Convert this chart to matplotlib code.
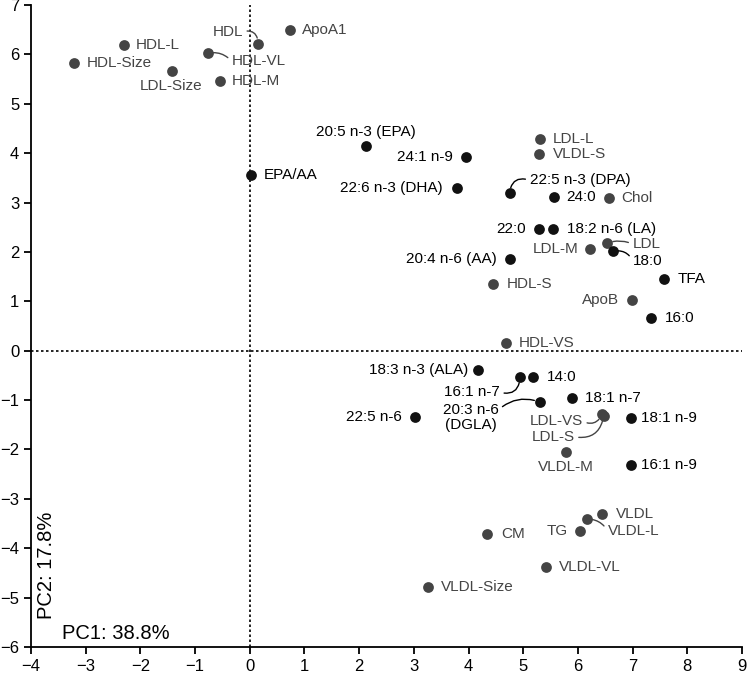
import matplotlib
matplotlib.use("Agg")
import matplotlib.pyplot as plt

plt.rcParams["font.family"] = ["Liberation Sans", "DejaVu Sans"]

# PCA loadings: fatty acids (black) and lipoprotein measures (gray)
fa_names = ["20:5 n-3 (EPA)", "24:1 n-9", "EPA/AA", "22:6 n-3 (DHA)", "22:5 n-3 (DPA)",
            "24:0", "22:0", "18:2 n-6 (LA)", "18:0", "20:4 n-6 (AA)", "TFA", "16:0",
            "18:3 n-3 (ALA)", "16:1 n-7", "14:0", "18:1 n-7", "20:3 n-6\n(DGLA)",
            "22:5 n-6", "18:1 n-9", "16:1 n-9"]
fa_pc1 = [2.12, 3.95, 0.02, 3.78, 4.75, 5.56, 5.28, 5.54, 6.64, 4.75, 7.57, 7.33,
          4.17, 4.94, 5.17, 5.90, 5.30, 3.02, 6.97, 6.97]
fa_pc2 = [4.14, 3.92, 3.55, 3.29, 3.19, 3.11, 2.46, 2.46, 2.01, 1.85, 1.45, 0.66,
          -0.39, -0.54, -0.54, -0.96, -1.04, -1.35, -1.37, -2.32]

lp_names = ["ApoA1", "HDL", "HDL-L", "HDL-VL", "HDL-Size", "LDL-Size", "HDL-M",
            "LDL-L", "VLDL-S", "Chol", "LDL-M", "LDL", "HDL-S", "ApoB", "HDL-VS",
            "LDL-VS", "LDL-S", "VLDL-M", "VLDL", "VLDL-L", "TG", "CM", "VLDL-VL",
            "VLDL-Size"]
lp_pc1 = [0.73, 0.15, -2.30, -0.77, -3.22, -1.43, -0.55, 5.30, 5.28, 6.56, 6.22,
          6.54, 4.44, 6.98, 4.68, 6.44, 6.47, 5.78, 6.44, 6.16, 6.03, 4.34, 5.42, 3.26]
lp_pc2 = [6.49, 6.22, 6.20, 6.02, 5.82, 5.66, 5.46, 4.28, 3.98, 3.09, 2.05, 2.18,
          1.35, 1.02, 0.15, -1.29, -1.32, -2.05, -3.31, -3.41, -3.65, -3.72, -4.39,
          -4.79]

# label placement: (dx px, dy px, ha, connector rad or None)
fa_lab = {
    "20:5 n-3 (EPA)": (0, 14, "center", None),
    "24:1 n-9": (-13, 0, "right", None),
    "EPA/AA": (13, 0, "left", None),
    "22:6 n-3 (DHA)": (-14, 0, "right", None),
    "22:5 n-3 (DPA)": (20, 13, "left", 0.6),
    "24:0": (12, 0, "left", None),
    "22:0": (-13, 0, "right", None),
    "18:2 n-6 (LA)": (14, 0, "left", None),
    "18:0": (20, -10, "left", 0.4),
    "20:4 n-6 (AA)": (-13, 0, "right", None),
    "TFA": (14, 0, "left", None),
    "16:0": (14, 0, "left", None),
    "18:3 n-3 (ALA)": (-10, 0, "right", None),
    "16:1 n-7": (-20, -15, "right", 0.6),
    "14:0": (14, 0, "left", None),
    "18:1 n-7": (13, 0, "left", None),
    "20:3 n-6\n(DGLA)": (-69, -15, "center", -0.3),
    "22:5 n-6": (-13, 0, "right", None),
    "18:1 n-9": (10, 0, "left", None),
    "16:1 n-9": (10, 0, "left", None),
}
lp_lab = {
    "ApoA1": (12, 0, "left", None),
    "HDL": (-15, 12, "right", -0.6),
    "HDL-L": (12, 0, "left", None),
    "HDL-VL": (24, -8, "left", 0.3),
    "HDL-Size": (13, 0, "left", None),
    "LDL-Size": (0, -15, "center", None),
    "HDL-M": (12, 0, "left", None),
    "LDL-L": (13, 0, "left", None),
    "VLDL-S": (14, 0, "left", None),
    "Chol": (13, 0, "left", None),
    "LDL-M": (-11, 0, "right", None),
    "LDL": (25, -1, "left", 0.2),
    "HDL-S": (14, 0, "left", None),
    "ApoB": (-13, 0, "right", None),
    "HDL-VS": (13, 0, "left", None),
    "LDL-VS": (-19, -7, "right", 0.5),
    "LDL-S": (-29, -21, "right", 0.5),
    "VLDL-M": (0, -15, "center", None),
    "VLDL": (14, 0, "left", None),
    "VLDL-L": (21, -12, "left", 0.3),
    "TG": (-12, 0, "right", None),
    "CM": (14, 0, "left", None),
    "VLDL-VL": (13, 0, "left", None),
    "VLDL-Size": (13, 0, "left", None),
}

FA_COL = "#111111"
LP_COL = "#444444"

fig = plt.figure(figsize=(7.52, 6.8), dpi=100)
ax = fig.add_axes([31 / 752, 1 - 647 / 680, 711 / 752, 642 / 680])

ax.axvline(0, color="black", ls=(0, (1.5, 1.5)), lw=1.2, zorder=1)
ax.axhline(0, color="black", ls=(0, (1.5, 1.5)), lw=1.2, zorder=1)

ax.scatter(lp_pc1, lp_pc2, s=60, color=LP_COL, zorder=3, linewidths=0)
ax.scatter(fa_pc1, fa_pc2, s=60, color=FA_COL, zorder=3, linewidths=0)


def label(names, xs, ys, spec, col):
    for n, x, y in zip(names, xs, ys):
        dx, dy, ha, rad = spec[n]
        kw = {}
        if rad is not None:
            rx = 1.0 if dx < 0 else 0.0
            ry = 0.75 if "\n" in n else 0.5
            kw["arrowprops"] = dict(arrowstyle="-", color=col, lw=1.0,
                                    connectionstyle=f"arc3,rad={rad}",
                                    relpos=(rx, ry), shrinkA=1, shrinkB=4)
        ax.annotate(n, (x, y), xytext=(dx, dy), textcoords="offset pixels",
                    ha=ha, va="center", fontsize=11, color=col,
                    linespacing=1.1, **kw)


label(fa_names, fa_pc1, fa_pc2, fa_lab, "black")
label(lp_names, lp_pc1, lp_pc2, lp_lab, LP_COL)

ax.set_xlim(-4, 9)
ax.set_ylim(-6, 7)
ax.set_xticks(range(-4, 10))
ax.set_yticks(range(-6, 8))
ax.spines["top"].set_visible(False)
ax.spines["right"].set_visible(False)
for s in ("left", "bottom"):
    ax.spines[s].set_linewidth(1.3)
ax.tick_params(direction="out", length=5, width=1.3, labelsize=12)

ax.text(-3.71, -4.34, "PC2: 17.8%", rotation=90, fontsize=14.5, ha="center",
        va="center")
ax.text(-3.44, -5.72, "PC1: 38.8%", fontsize=14.5, ha="left", va="center")

fig.savefig("out.png", dpi=100)
